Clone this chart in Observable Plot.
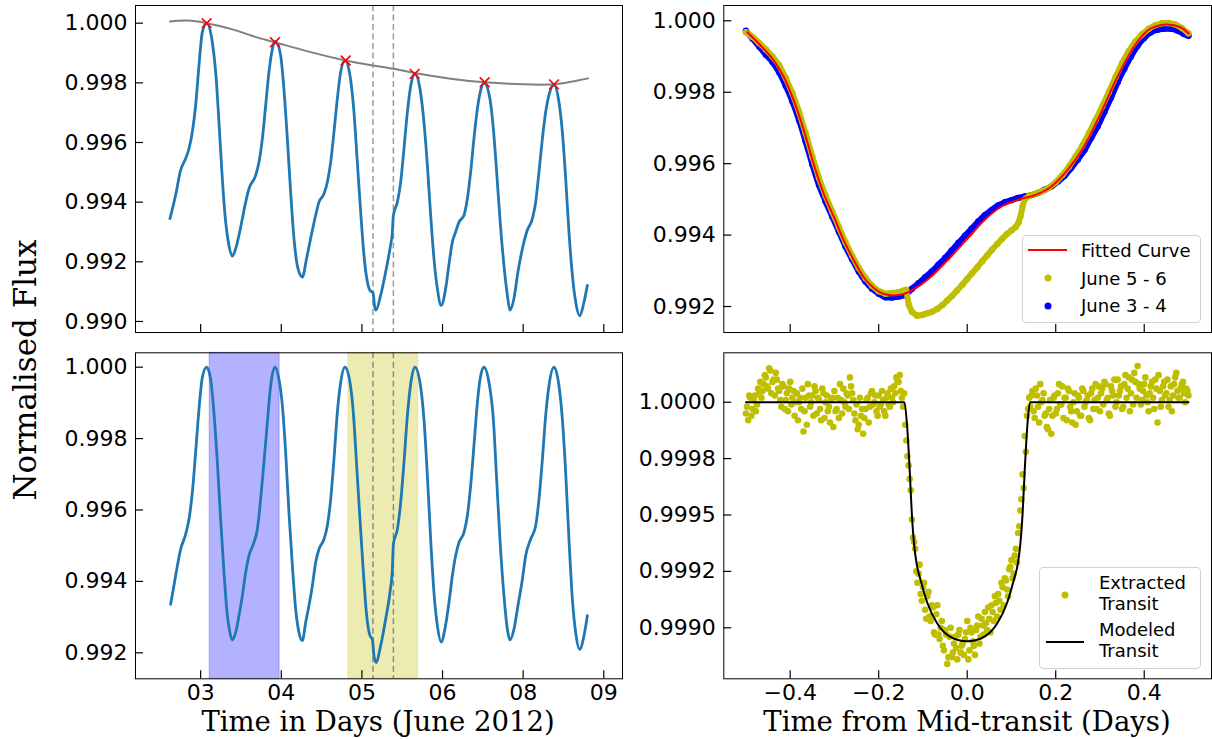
<!DOCTYPE html>
<html><head><meta charset="utf-8">
<script src="https://cdn.jsdelivr.net/npm/d3@7"></script>
<script src="https://cdn.jsdelivr.net/npm/@observablehq/plot@0.6"></script>
<style>
body{margin:0;background:#fff;}
#root{position:relative;width:1212px;height:739px;overflow:hidden;background:#fff;}
.panel{position:absolute;}
.lbl{position:absolute;font-family:"DejaVu Serif",serif;white-space:nowrap;color:#000;transform:translate(-50%,-50%);}
.legend{position:absolute;border:1px solid #d3d3d3;border-radius:4px;background:rgba(255,255,255,0.8);box-sizing:border-box;}
.ltxt{position:absolute;font-family:"DejaVu Sans",sans-serif;font-size:18px;color:#000;white-space:nowrap;transform:translateY(-50%);line-height:1;}
.lline{position:absolute;height:2px;transform:translateY(-50%);}
.ldot{position:absolute;width:7px;height:7px;border-radius:50%;transform:translate(-50%,-50%);}
</style></head><body><div id="root"></div><script>
// ---------- Left panels: light curve (June 2012) ----------
const lcTime = [2.524,2.612,2.690,2.767,2.819,2.871,2.922,2.974,3.026,3.093,
3.181,3.233,3.284,3.336,3.388,3.439,3.491,3.543,3.594,3.647,
3.698,3.749,3.853,3.904,3.957,4.008,4.059,4.112,4.163,4.240,
4.291,4.344,4.395,4.447,4.509,4.577,4.643,4.705,4.783,4.834,
4.912,4.964,5.016,5.067,5.119,5.171,5.237,5.315,5.377,5.429,
5.481,5.532,5.585,5.636,5.672,5.698,5.718,5.791,5.868,5.935,
5.972,5.988,6.050,6.101,6.152,6.205,6.267,6.322,6.400,6.462,
6.515,6.566,6.617,6.670,6.729,6.798,6.850,6.902,6.953,7.005,
7.082,7.135,7.186,7.237,7.290,7.341,7.395,7.485,7.538,7.589,
7.640,7.702,7.755,7.795,7.857,7.919,7.988,8.054,8.143,8.194,
8.245,8.298,8.349,8.411,8.478,8.555,8.608,8.659,8.710,8.763,
8.814,8.876,8.943,8.995];
const lcFlux = [0.99345,0.99423,0.99507,0.99546,0.99579,0.99635,0.99724,0.99858,0.99970,1.00000,
0.99936,0.99836,0.99668,0.99479,0.99333,0.99255,0.99219,0.99244,0.99289,0.99345,
0.99400,0.99445,0.99490,0.99534,0.99613,0.99724,0.99836,0.99914,0.99939,0.99892,
0.99780,0.99613,0.99434,0.99278,0.99177,0.99149,0.99212,0.99278,0.99356,0.99400,
0.99428,0.99467,0.99534,0.99635,0.99747,0.99836,0.99875,0.99825,0.99702,0.99534,
0.99367,0.99222,0.99132,0.99101,0.99097,0.99049,0.99038,0.99088,0.99166,0.99244,
0.99300,0.99356,0.99400,0.99467,0.99579,0.99702,0.99802,0.99830,0.99780,0.99668,
0.99523,0.99356,0.99211,0.99110,0.99054,0.99110,0.99192,0.99266,0.99300,0.99333,
0.99356,0.99412,0.99501,0.99613,0.99713,0.99775,0.99800,0.99747,0.99646,0.99501,
0.99345,0.99188,0.99088,0.99038,0.99077,0.99166,0.99244,0.99300,0.99345,0.99400,
0.99501,0.99613,0.99702,0.99768,0.99793,0.99735,0.99635,0.99479,0.99300,0.99155,
0.99065,0.99019,0.99065,0.99121];
const trendTime = [2.524,2.794,3.093,3.465,3.806,4.152,4.705,5.248,5.671,5.988,6.318,6.876,7.403,8.012,8.478,8.788,9.005];
const trendFlux = [1.00006,1.00009,1.00000,0.99981,0.99957,0.99936,0.99903,0.99875,0.99858,0.99847,0.99833,0.99814,0.99802,0.99795,0.99795,0.99805,0.99815];
const peakTime = [3.093,4.152,5.248,6.318,7.403,8.478];
const peakFlux = [1.00000,0.99936,0.99875,0.99830,0.99802,0.99795];
const transitEdges = [5.671,5.988];
const detTime = [2.535,2.612,2.690,2.767,2.819,2.871,2.922,2.974,3.026,3.093,
3.155,3.206,3.259,3.310,3.362,3.414,3.454,3.491,3.543,3.594,
3.647,3.698,3.749,3.826,3.879,3.930,3.981,4.034,4.085,4.152,
4.214,4.267,4.318,4.369,4.422,4.473,4.524,4.577,4.628,4.679,
4.732,4.783,4.834,4.912,4.964,5.016,5.067,5.119,5.171,5.237,
5.315,5.367,5.419,5.470,5.523,5.574,5.625,5.662,5.687,5.718,
5.791,5.868,5.935,5.972,5.988,6.050,6.101,6.152,6.205,6.267,
6.322,6.400,6.462,6.515,6.566,6.617,6.670,6.729,6.791,6.850,
6.902,6.953,7.005,7.082,7.135,7.186,7.237,7.290,7.341,7.392,
7.470,7.538,7.589,7.640,7.702,7.755,7.795,7.857,7.919,7.988,
8.039,8.116,8.194,8.245,8.298,8.349,8.400,8.478,8.555,8.608,
8.659,8.710,8.763,8.814,8.876,8.943,8.995];
const detFlux = [0.99336,0.99416,0.99490,0.99532,0.99574,0.99649,0.99761,0.99882,0.99971,1.00000,
0.99966,0.99873,0.99733,0.99574,0.99425,0.99304,0.99257,0.99236,0.99257,0.99304,
0.99360,0.99425,0.99472,0.99509,0.99546,0.99630,0.99733,0.99845,0.99948,1.00000,
0.99966,0.99892,0.99761,0.99593,0.99444,0.99322,0.99257,0.99234,0.99285,0.99332,
0.99388,0.99453,0.99490,0.99518,0.99556,0.99630,0.99742,0.99873,0.99957,1.00000,
0.99957,0.99873,0.99724,0.99574,0.99425,0.99304,0.99248,0.99238,0.99192,0.99173,
0.99220,0.99294,0.99369,0.99434,0.99504,0.99546,0.99621,0.99733,0.99864,0.99966,
1.00000,0.99957,0.99854,0.99696,0.99518,0.99369,0.99276,0.99230,0.99271,0.99341,
0.99416,0.99472,0.99509,0.99537,0.99584,0.99668,0.99780,0.99901,0.99976,1.00000,
0.99957,0.99854,0.99686,0.99518,0.99360,0.99266,0.99236,0.99266,0.99332,0.99406,
0.99472,0.99518,0.99556,0.99630,0.99742,0.99864,0.99948,1.00000,0.99948,0.99854,
0.99705,0.99518,0.99350,0.99257,0.99210,0.99248,0.99304];
const windowStart = [3.140,5.290];
const windowEnd = [4.225,6.375];
const windowName = ["June 3 - 4","June 5 - 6"];
const dayTicks = [3,4.25,5.5,6.75,8,9.25];
const dayTickLabels = ["03","04","05","06","08","09"];
const fluxTicksTop = [0.990,0.992,0.994,0.996,0.998,1.000];
const fluxTicks = [0.992,0.994,0.996,0.998,1.000];

// ---------- Right panels: phase-folded ----------
const fitTime = [-0.497,-0.467,-0.437,-0.414,-0.392,-0.369,-0.347,-0.324,-0.301,-0.279,-0.256,-0.234,-0.211,-0.188,-0.166,-0.143,-0.113,-0.075,-0.038,0,0.038,0.075,0.120,0.151,0.188,0.226,0.263,0.301,0.339,0.376,0.414,0.452,0.482,0.501];
const fitFlux = [0.99968,0.99931,0.99889,0.99842,0.99777,0.99693,0.99599,0.99515,0.99450,0.99385,0.99329,0.99282,0.99252,0.99235,0.99231,0.99235,0.99254,0.99291,0.99338,0.99389,0.99441,0.99478,0.99501,0.99511,0.99534,0.99581,0.99646,0.99739,0.99842,0.99926,0.99978,0.99990,0.99982,0.99964];
const june34Time = [-0.500,-0.485,-0.470,-0.455,-0.440,-0.425,-0.410,-0.395,-0.380,-0.365,-0.350,-0.335,-0.320,-0.305,-0.290,-0.275,-0.260,-0.245,-0.230,-0.215,-0.200,-0.185,-0.170,-0.155,-0.140,-0.125,-0.110,-0.095,-0.080,-0.065,-0.050,-0.035,-0.020,-0.005,0.010,0.025,0.040,0.055,0.070,0.085,0.100,0.115,0.130,0.145,0.160,0.175,0.190,0.205,0.220,0.235,0.250,0.265,0.280,0.295,0.310,0.325,0.340,0.355,0.370,0.385,0.400,0.415,0.430,0.445,0.460,0.475,0.490,0.500];
const june34Flux = [0.99972,0.99950,0.99928,0.99905,0.99885,0.99856,0.99818,0.99774,0.99722,0.99662,0.99598,0.99540,0.99494,0.99452,0.99410,0.99368,0.99332,0.99298,0.99270,0.99250,0.99236,0.99226,0.99225,0.99228,0.99232,0.99250,0.99265,0.99282,0.99298,0.99317,0.99336,0.99357,0.99378,0.99398,0.99418,0.99438,0.99456,0.99470,0.99483,0.99492,0.99498,0.99504,0.99508,0.99512,0.99518,0.99527,0.99536,0.99550,0.99566,0.99588,0.99612,0.99638,0.99672,0.99705,0.99745,0.99785,0.99828,0.99866,0.99900,0.99930,0.99952,0.99968,0.99975,0.99978,0.99978,0.99973,0.99963,0.99958];
const june56Time = [-0.500,-0.485,-0.470,-0.455,-0.440,-0.425,-0.410,-0.395,-0.380,-0.365,-0.350,-0.335,-0.320,-0.305,-0.290,-0.275,-0.260,-0.245,-0.230,-0.215,-0.200,-0.185,-0.170,-0.155,-0.145,-0.138,-0.132,-0.125,-0.113,-0.100,-0.090,-0.080,-0.068,-0.056,-0.045,-0.034,-0.023,-0.011,0.000,0.011,0.023,0.034,0.045,0.056,0.068,0.079,0.090,0.100,0.109,0.116,0.121,0.125,0.130,0.140,0.155,0.170,0.185,0.200,0.215,0.230,0.245,0.260,0.275,0.290,0.305,0.320,0.335,0.350,0.365,0.380,0.395,0.410,0.425,0.440,0.455,0.470,0.485,0.500];
const june56Flux = [0.99968,0.99955,0.99938,0.99920,0.99900,0.99876,0.99840,0.99797,0.99745,0.99685,0.99620,0.99560,0.99510,0.99466,0.99422,0.99380,0.99342,0.99308,0.99280,0.99258,0.99243,0.99236,0.99238,0.99240,0.99244,0.99247,0.99205,0.99185,0.99174,0.99177,0.99181,0.99185,0.99193,0.99204,0.99217,0.99230,0.99245,0.99261,0.99277,0.99293,0.99310,0.99327,0.99343,0.99359,0.99375,0.99390,0.99403,0.99413,0.99422,0.99435,0.99455,0.99480,0.99500,0.99510,0.99516,0.99523,0.99533,0.99548,0.99568,0.99592,0.99620,0.99650,0.99685,0.99722,0.99760,0.99800,0.99842,0.99882,0.99915,0.99942,0.99962,0.99978,0.99988,0.99993,0.99994,0.99990,0.99980,0.99965];
const transitTime = [-0.500,-0.495,-0.490,-0.485,-0.480,-0.475,-0.470,-0.465,-0.460,-0.455,
-0.450,-0.445,-0.440,-0.435,-0.430,-0.425,-0.420,-0.415,-0.410,-0.405,
-0.400,-0.395,-0.390,-0.385,-0.380,-0.375,-0.370,-0.365,-0.360,-0.355,
-0.350,-0.345,-0.340,-0.335,-0.330,-0.325,-0.320,-0.315,-0.310,-0.305,
-0.300,-0.295,-0.290,-0.285,-0.280,-0.275,-0.270,-0.265,-0.260,-0.255,
-0.250,-0.245,-0.240,-0.235,-0.230,-0.225,-0.220,-0.215,-0.210,-0.205,
-0.200,-0.195,-0.190,-0.185,-0.180,-0.175,-0.170,-0.165,-0.160,-0.155,
-0.150,-0.145,-0.140,-0.135,-0.130,-0.125,-0.120,-0.115,-0.110,-0.105,
-0.100,-0.095,-0.090,-0.085,-0.080,-0.075,-0.070,-0.065,-0.060,-0.055,
-0.050,-0.045,-0.040,-0.035,-0.030,-0.025,-0.020,-0.015,-0.010,-0.005,
0.000,0.005,0.010,0.015,0.020,0.025,0.030,0.035,0.040,0.045,
0.050,0.055,0.060,0.065,0.070,0.075,0.080,0.085,0.090,0.095,
0.100,0.105,0.110,0.115,0.120,0.125,0.130,0.135,0.140,0.145,
0.150,0.155,0.160,0.165,0.170,0.175,0.180,0.185,0.190,0.195,
0.200,0.205,0.210,0.215,0.220,0.225,0.230,0.235,0.240,0.245,
0.250,0.255,0.260,0.265,0.270,0.275,0.280,0.285,0.290,0.295,
0.300,0.305,0.310,0.315,0.320,0.325,0.330,0.335,0.340,0.345,
0.350,0.355,0.360,0.365,0.370,0.375,0.380,0.385,0.390,0.395,
0.400,0.405,0.410,0.415,0.420,0.425,0.430,0.435,0.440,0.445,
0.450,0.455,0.460,0.465,0.470,0.475,0.480,0.485,0.490,0.495,
0.500,
-0.4975,-0.4925,-0.4875,-0.4825,-0.4775,-0.4725,-0.4675,-0.4625,-0.4575,-0.4525,
-0.4475,-0.4425,-0.4375,-0.4325,-0.4275,-0.4225,-0.4175,-0.4125,-0.4075,-0.4025,
-0.3975,-0.3925,-0.3875,-0.3825,-0.3775,-0.3725,-0.3675,-0.3625,-0.3575,-0.3525,
-0.3475,-0.3425,-0.3375,-0.3325,-0.3275,-0.3225,-0.3175,-0.3125,-0.3075,-0.3025,
-0.2975,-0.2925,-0.2875,-0.2825,-0.2775,-0.2725,-0.2675,-0.2625,-0.2575,-0.2525,
-0.2475,-0.2425,-0.2375,-0.2325,-0.2275,-0.2225,-0.2175,-0.2125,-0.2075,-0.2025,
-0.1975,-0.1925,-0.1875,-0.1825,-0.1775,-0.1725,-0.1675,-0.1625,-0.1575,-0.1525,
-0.1475,
-0.1425,-0.1375,-0.1325,-0.1275,-0.1225,-0.1175,-0.1125,-0.1075,-0.1025,-0.0975,
-0.0925,-0.0875,-0.0825,-0.0775,-0.0725,-0.0675,-0.0625,-0.0575,-0.0525,-0.0475,
-0.0425,-0.0375,-0.0325,-0.0275,-0.0225,-0.0175,-0.0125,-0.0075,-0.0025,
0.0025,0.0075,0.0125,0.0175,0.0225,0.0275,0.0325,0.0375,0.0425,0.0475,
0.0525,0.0575,0.0625,0.0675,0.0725,0.0775,0.0825,0.0875,0.0925,0.0975,
0.1025,0.1075,0.1125,0.1175,0.1225,0.1275,0.1325,0.1375,
0.1425,0.1475,0.1525,0.1575,0.1625,0.1675,0.1725,0.1775,0.1825,0.1875,
0.1925,0.1975,0.2025,0.2075,0.2125,0.2175,0.2225,0.2275,0.2325,0.2375,
0.2425,0.2475,0.2525,0.2575,0.2625,0.2675,0.2725,0.2775,0.2825,0.2875,
0.2925,0.2975,0.3025,0.3075,0.3125,0.3175,0.3225,0.3275,0.3325,0.3375,
0.3425,0.3475,0.3525,0.3575,0.3625,0.3675,0.3725,0.3775,0.3825,0.3875,
0.3925,0.3975,0.4025,0.4075,0.4125,0.4175,0.4225,0.4275,0.4325,0.4375,
0.4425,0.4475,0.4525,0.4575,0.4625,0.4675,0.4725,0.4775,0.4825,0.4875,
0.4925,0.4975];
const transitFlux = [
0.99995,0.99992,1.00002,0.99997,1.00003,0.99999,1.00004,1.00002,1.00008,1.00011,
1.00006,1.00014,1.00009,1.00003,1.00010,1.00005,0.99998,1.00007,1.00001,0.99996,
1.00009,1.00002,0.99994,1.00004,1.00000,0.99997,0.99987,1.00002,1.00008,0.99998,
1.00003,1.00007,0.99995,1.00001,0.99992,1.00004,1.00000,0.99996,0.99991,1.00002,
1.00005,0.99997,0.99993,1.00001,1.00006,0.99998,1.00003,1.00011,1.00004,0.99995,
0.99999,0.99990,0.99994,0.99986,0.99997,1.00002,0.99998,1.00005,1.00000,0.99996,
1.00003,0.99999,1.00001,0.99994,1.00004,0.99998,1.00002,1.00007,1.00011,1.00009,
1.00005,
0.99998,0.99990,0.99976,0.99966,0.99948,0.99938,0.99925,0.99924,0.99915,0.99918,
0.99908,0.99914,0.99905,0.99910,0.99898,0.99906,0.99897,0.99900,0.99892,0.99899,
0.99884,0.99896,0.99887,0.99893,0.99891,0.99897,0.99889,0.99893,0.99895,0.99903,
0.99890,0.99898,0.99892,0.99899,0.99905,0.99896,0.99901,0.99907,0.99899,0.99904,
0.99910,0.99903,0.99911,0.99915,0.99908,0.99918,0.99922,0.99917,0.99926,0.99930,
0.99924,0.99935,0.99942,0.99952,0.99968,0.99985,0.99994,1.00002,
1.00003,0.99996,1.00006,0.99998,1.00008,1.00001,0.99994,0.99989,0.99997,0.99986,
1.00002,0.99995,1.00004,0.99999,1.00007,1.00002,0.99992,1.00005,0.99996,1.00000,
0.99990,1.00003,0.99994,1.00006,0.99998,1.00001,0.99993,1.00004,0.99997,1.00008,
1.00002,0.99996,1.00006,1.00009,1.00001,0.99995,1.00007,1.00003,0.99998,1.00010,
1.00005,0.99997,1.00008,1.00002,1.00011,1.00004,0.99999,1.00009,1.00016,1.00006,
1.00001,1.00008,1.00003,0.99996,1.00007,1.00002,1.00010,0.99991,1.00005,1.00001,
1.00009,1.00004,0.99998,1.00007,1.00003,1.00011,1.00005,1.00002,1.00008,1.00004,
1.00006,1.00003,
0.99998,1.00003,0.99994,1.00001,0.99996,1.00006,1.00009,1.00005,1.00012,1.00007,
1.00015,1.00004,1.00010,1.00013,1.00006,1.00001,1.00008,0.99997,1.00004,1.00006,
0.99999,1.00005,1.00000,0.99992,1.00002,1.00006,0.99996,0.99990,1.00003,1.00000,
0.99994,1.00005,1.00002,0.99997,1.00006,0.99993,1.00003,0.99998,1.00001,0.99989,
0.99996,1.00002,1.00008,0.99995,1.00000,1.00004,0.99997,1.00007,1.00001,0.99992,
0.99988,1.00002,0.99997,0.99993,1.00001,0.99991,1.00004,0.99999,1.00003,0.99994,
0.99998,1.00005,0.99996,1.00002,0.99999,1.00006,1.00000,1.00004,1.00009,1.00012,
1.00002,
1.00004,0.99983,0.99972,0.99961,0.99940,0.99935,0.99920,0.99928,0.99912,0.99920,
0.99904,0.99916,0.99903,0.99909,0.99897,0.99910,0.99895,0.99903,0.99890,0.99897,
0.99887,0.99900,0.99889,0.99896,0.99886,0.99899,0.99892,0.99888,0.99898,
0.99886,0.99900,0.99894,0.99888,0.99901,0.99893,0.99904,0.99897,0.99902,0.99909,
0.99898,0.99907,0.99914,0.99905,0.99912,0.99920,0.99910,0.99921,0.99914,0.99927,
0.99922,0.99932,0.99929,0.99945,0.99957,0.99962,0.99978,0.99997,
0.99998,1.00005,0.99993,1.00003,0.99991,1.00000,1.00004,0.99995,0.99988,1.00001,
0.99994,1.00003,0.99997,1.00008,0.99999,0.99993,1.00002,1.00006,0.99998,0.99991,
1.00004,0.99996,1.00002,0.99994,1.00005,1.00000,1.00003,0.99992,1.00006,1.00001,
0.99997,1.00007,1.00004,0.99999,1.00008,1.00002,0.99994,1.00005,1.00010,1.00000,
1.00003,1.00007,0.99998,1.00012,1.00006,0.99996,1.00010,1.00013,1.00002,1.00008,
0.99999,1.00005,1.00011,1.00000,1.00004,1.00009,0.99997,1.00006,1.00012,0.99998,
1.00007,1.00003,1.00010,1.00001,0.99996,1.00008,1.00013,1.00002,1.00006,1.00009,
1.00000,1.00005];
const modelTime = [-0.500,-0.142,-0.136,-0.130,-0.125,-0.120,-0.114,-0.105,-0.090,-0.068,-0.038,0.000,0.038,0.068,0.090,0.105,0.114,0.120,0.125,0.130,0.136,0.142,0.500];
const modelFlux = [1.00000,1.00000,0.99990,0.99970,0.99950,0.99937,0.99928,0.99921,0.99911,0.99902,0.99896,0.99894,0.99896,0.99902,0.99911,0.99921,0.99928,0.99937,0.99950,0.99970,0.99990,1.00000,1.00000];
const phaseTicks = [-0.4,-0.2,0,0.2,0.4];
const transitTicks = [0.999,0.99925,0.9995,0.99975,1.0];
const transitTickLabels = ["0.9990","0.9992","0.9995","0.9998","1.0000"];

// ---------- build ----------
const zip = (xs, ys) => xs.map((x, i) => ({x, y: ys[i]}));
const lc = zip(lcTime, lcFlux), det = zip(detTime, detFlux), trend = zip(trendTime, trendFlux);
const peaks = zip(peakTime, peakFlux);
const windows = windowStart.map((s, i) => ({s, e: windowEnd[i], name: windowName[i]}));
const fit = zip(fitTime, fitFlux), j34 = zip(june34Time, june34Flux), j56 = zip(june56Time, june56Flux);
const tr = zip(transitTime, transitFlux), model = zip(modelTime, modelFlux);

const root = document.getElementById("root");
const FONT = '"DejaVu Sans", sans-serif';
const TICK = 8;

function place(svg, left, top) {
  const d = document.createElement("div");
  d.className = "panel"; d.style.left = left + "px"; d.style.top = top + "px";
  d.appendChild(svg); root.appendChild(d);
}
function inwardTicks(xT, yT, innerW, innerH) {
  return [
    Plot.tickY(yT, {y: d => d, insetRight: innerW - TICK, stroke: "#000", strokeWidth: 1.2}),
    Plot.tickX(xT, {x: d => d, insetTop: innerH - TICK, stroke: "#000", strokeWidth: 1.2})
  ];
}
const baseStyle = {fontFamily: FONT, fontSize: "22px", background: "transparent", overflow: "visible", color: "#000"};

// Top-left
{
  const W = 680, H = 345, ml = 135, mr = 58, mt = 5, mb = 13;
  place(Plot.plot({
    width: W, height: H, marginLeft: ml, marginRight: mr, marginTop: mt, marginBottom: mb,
    style: baseStyle,
    x: {domain: [1.99, 9.54], axis: null},
    y: {domain: [0.98963, 1.000593]},
    marks: [
      Plot.ruleX(transitEdges, {x: d => d, stroke: "#9a9a9a", strokeWidth: 1.5, strokeDasharray: "6,3.5"}),
      Plot.line(lc, {x: "x", y: "y", stroke: "#1f77b4", strokeWidth: 2.8, curve: "monotone-x"}),
      Plot.line(trend, {x: "x", y: "y", stroke: "#808080", strokeWidth: 2, curve: "natural"}),
      Plot.dot(peaks, {x: "x", y: "y", symbol: "times", r: 4.5, stroke: "#ff0000", strokeWidth: 1.6}),
      ...inwardTicks(dayTicks, fluxTicksTop, W - ml - mr, H - mt - mb),
      Plot.axisY({ticks: fluxTicksTop, tickFormat: d3.format(".3f"), tickSize: 0, tickPadding: 8, label: null, fontSize: 22}),
      Plot.frame({stroke: "#000", strokeWidth: 1})
    ]
  }), 0, 0);
}
// Bottom-left
{
  const W = 680, H = 394, ml = 135, mr = 58, mt = 7.3, mb = 60.7;
  place(Plot.plot({
    width: W, height: H, marginLeft: ml, marginRight: mr, marginTop: mt, marginBottom: mb,
    style: baseStyle,
    x: {domain: [1.99, 9.54]},
    y: {domain: [0.991272, 1.000403]},
    marks: [
      Plot.rect(windows.slice(0, 1), {x1: "s", x2: "e", fill: "#0000ff", fillOpacity: 0.3, stroke: "#0000ff", strokeOpacity: 0.25}),
      Plot.rect(windows.slice(1, 2), {x1: "s", x2: "e", fill: "#bfbf00", fillOpacity: 0.3, stroke: "#bfbf00", strokeOpacity: 0.2}),
      Plot.ruleX(transitEdges, {x: d => d, stroke: "#8a8a8a", strokeWidth: 1.5, strokeDasharray: "6,3.5"}),
      Plot.line(det, {x: "x", y: "y", stroke: "#1f77b4", strokeWidth: 2.8, curve: "monotone-x"}),
      ...inwardTicks(dayTicks, fluxTicks, W - ml - mr, H - mt - mb),
      Plot.axisY({ticks: fluxTicks, tickFormat: d3.format(".3f"), tickSize: 0, tickPadding: 8, label: null, fontSize: 22}),
      Plot.axisX({ticks: dayTicks, tickFormat: d => dayTickLabels[dayTicks.indexOf(d)], tickSize: 0, tickPadding: 6, label: null, fontSize: 22}),
      Plot.frame({stroke: "#000", strokeWidth: 1})
    ]
  }), 0, 345);
}
// Top-right
{
  const W = 532, H = 345, ml = 43.3, mr = 1, mt = 5, mb = 13;
  place(Plot.plot({
    width: W, height: H, marginLeft: ml, marginRight: mr, marginTop: mt, marginBottom: mb,
    style: baseStyle,
    x: {domain: [-0.550, 0.552], axis: null},
    y: {domain: [0.991272, 1.000429]},
    marks: [
      Plot.line(j34, {x: "x", y: "y", stroke: "#0000ff", strokeWidth: 6, curve: "monotone-x"}),
      Plot.dot(j34, {x: "x", y: "y", r: 3.2, fill: "#0000ff"}),
      Plot.line(j56, {x: "x", y: "y", stroke: "#bfbf00", strokeWidth: 6, curve: "linear"}),
      Plot.dot(j56, {x: "x", y: "y", r: 3.2, fill: "#bfbf00"}),
      Plot.line(fit, {x: "x", y: "y", stroke: "#ff0000", strokeWidth: 2, curve: "monotone-x"}),
      ...inwardTicks(phaseTicks, fluxTicks, W - ml - mr, H - mt - mb),
      Plot.axisY({ticks: fluxTicks, tickFormat: d3.format(".3f"), tickSize: 0, tickPadding: 8, label: null, fontSize: 22}),
      Plot.frame({stroke: "#000", strokeWidth: 1})
    ]
  }), 680, 0);
}
// Bottom-right
{
  const W = 532, H = 394, ml = 43.3, mr = 1, mt = 7.3, mb = 60.7;
  place(Plot.plot({
    width: W, height: H, marginLeft: ml, marginRight: mr, marginTop: mt, marginBottom: mb,
    style: baseStyle,
    x: {domain: [-0.550, 0.552]},
    y: {domain: [0.998774, 1.000219]},
    marks: [
      Plot.dot(tr, {x: "x", y: "y", r: 3.3, fill: "#bfbf00"}),
      Plot.line(model, {x: "x", y: "y", stroke: "#000", strokeWidth: 2, curve: "monotone-x"}),
      ...inwardTicks(phaseTicks, transitTicks, W - ml - mr, H - mt - mb),
      Plot.axisY({ticks: transitTicks, tickFormat: d => transitTickLabels[transitTicks.indexOf(d)], tickSize: 0, tickPadding: 8, label: null, fontSize: 22}),
      Plot.axisX({ticks: phaseTicks, tickFormat: d3.format(".1f"), tickSize: 0, tickPadding: 6, label: null, fontSize: 22}),
      Plot.frame({stroke: "#000", strokeWidth: 1})
    ]
  }), 680, 345);
}

// ---------- text labels ----------
function label(text, x, y, size, rotate) {
  const d = document.createElement("div");
  d.className = "lbl"; d.textContent = text;
  d.style.left = x + "px"; d.style.top = y + "px"; d.style.fontSize = size + "px";
  if (rotate) d.style.transform = "translate(-50%,-50%) rotate(-90deg)";
  root.appendChild(d);
}
label("Normalised Flux", 25, 370, 31, true);
label("Time in Days (June 2012)", 378, 721, 27.5);
label("Time from Mid-transit (Days)", 967, 721, 27.5);

// ---------- legends ----------
function el(cls, css, text) {
  const d = document.createElement("div"); d.className = cls;
  Object.assign(d.style, css); if (text) d.textContent = text; root.appendChild(d); return d;
}
el("legend", {left: "1022px", top: "235px", width: "179px", height: "88px"});
el("lline", {left: "1028px", top: "250px", width: "39px", background: "#ff0000"});
el("ltxt", {left: "1081px", top: "251px"}, "Fitted Curve");
el("ldot", {left: "1048px", top: "278px", background: "#bfbf00"});
el("ltxt", {left: "1081px", top: "279px"}, windowName[1]);
el("ldot", {left: "1048px", top: "306px", background: "#0000ff"});
el("ltxt", {left: "1081px", top: "306px"}, windowName[0]);

el("legend", {left: "1039px", top: "567px", width: "162px", height: "102px"});
el("ldot", {left: "1065px", top: "595px", background: "#bfbf00"});
el("ltxt", {left: "1099px", top: "583px"}, "Extracted");
el("ltxt", {left: "1099px", top: "604px"}, "Transit");
el("lline", {left: "1046px", top: "642px", width: "38px", background: "#000"});
el("ltxt", {left: "1099px", top: "630px"}, "Modeled");
el("ltxt", {left: "1099px", top: "651px"}, "Transit");
</script></body></html>
